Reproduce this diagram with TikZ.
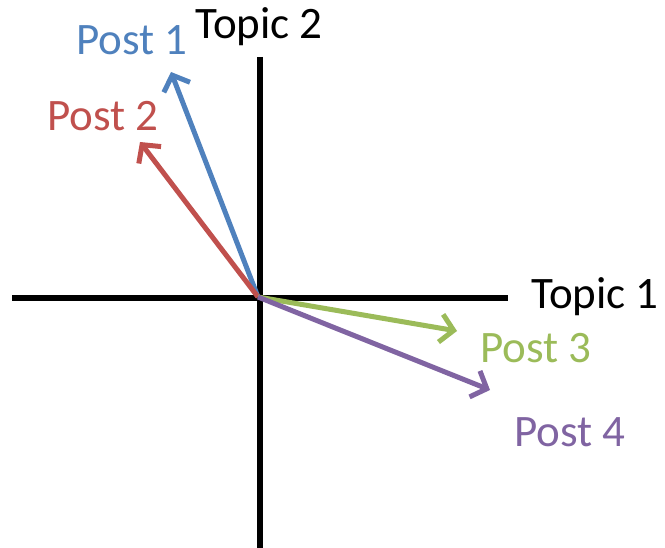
\documentclass[tikz,border=0pt]{standalone}
\usepackage{fontspec}
\setmainfont{Carlito}
\definecolor{postblue}{RGB}{79,129,189}
\definecolor{postred}{RGB}{192,80,77}
\definecolor{postgreen}{RGB}{155,187,89}
\definecolor{postpurple}{RGB}{128,100,162}
\usetikzlibrary{arrows.meta}

\begin{document}
\begin{tikzpicture}[
      x=1pt, y=-1pt,
      axis/.style={line width=5.5pt, black},
      vec/.style={line width=5pt, -{Straight Barb[length=13pt,width=28pt,line width=5pt]}},
      lbl/.style={font=\fontsize{45}{45}\selectfont, inner sep=0pt}
    ]
      \useasboundingbox (0,0) rectangle (665,548);

      % Axes
      \coordinate (xl) at (12,298);
      \coordinate (xr) at (508,298);
      \coordinate (yt) at (260,57);
      \coordinate (yb) at (260,548);
      \draw[axis] (xl) -- (xr);
      \draw[axis] (yt) -- (yb);
      \node[lbl] (t1) at (595,297) {Topic 1};
      \node[lbl] (t2) at (259,27) {Topic 2};

      % Post vectors
      \coordinate (o) at (258,297);
      \coordinate (p1) at (171,72);
      \coordinate (p2) at (140,142);
      \coordinate (p3) at (457,331);
      \coordinate (p4) at (490,390);
      \draw[vec, postblue] (o) -- (p1);
      \draw[vec, postred] (o) -- (p2);
      \draw[vec, postgreen] (o) -- (p3);
      \draw[vec, postpurple] (o) -- (p4);

      % Labels
      \node[lbl, postblue] (l1) at (132,40) {Post 1};
      \node[lbl, postred] (l2) at (103,116) {Post 2};
      \node[lbl, postgreen] (l3) at (536,348) {Post 3};
      \node[lbl, postpurple] (l4) at (570,432) {Post 4};
    \end{tikzpicture}
\end{document}
